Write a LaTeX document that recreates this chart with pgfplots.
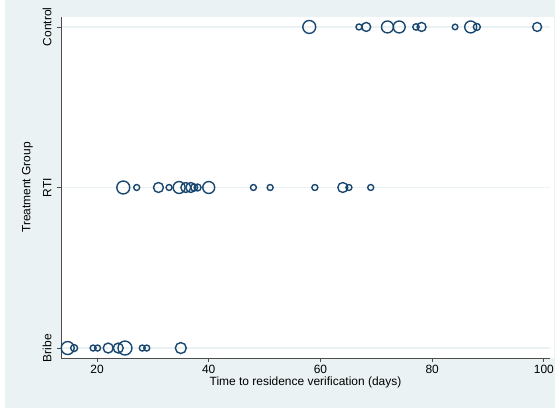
\documentclass[border=0pt]{standalone}
\usepackage{fontspec}
\setmainfont{Liberation Sans}
\usepackage{pgfplots}
\pgfplotsset{compat=1.18}
\definecolor{bgc}{HTML}{EAF2F3}
\definecolor{navy}{HTML}{1A476F}
\begin{document}
\begin{tikzpicture}
\fill[white] (0,0) rectangle (559bp,408bp);
\fill[bgc] (5bp,0) rectangle (555bp,408bp);
\fill[white] (61bp,50bp) rectangle (554bp,391bp);
\useasboundingbox (0,0) rectangle (559bp,408bp);
\begin{axis}[
  at={(61bp,50bp)}, anchor=south west,
  scale only axis, width=489bp, height=341bp,
  xmin=13.55, xmax=101.1, ymin=-0.062, ymax=2.062,
  axis x line*=bottom, axis y line*=left,
  axis line style={-, draw=black!70, line width=0.9bp},
  xtick={20,40,60,80,100},
  ytick={0,1,2}, yticklabels={Bribe,RTI,Control},
  yticklabel style={rotate=90, anchor=south, yshift=2bp},
  tick align=outside, major tick length=4bp,
  tick style={draw=black!70, line width=0.8bp},
  ymajorgrids, grid style={bgc, line width=1.6bp},
  /pgf/number format/assume math mode=true,
  ticklabel style={font=\fontsize{12}{14}\selectfont},
  label style={font=\fontsize{12}{14}\selectfont},
  xlabel={Time to residence verification (days)},
  xlabel style={yshift=3.5bp},
  ylabel={Treatment Group},
  ylabel style={yshift=3bp},
  clip=false,
]
\addplot[scatter, only marks, mark=o,
  scatter/use mapped color={draw=navy, fill=none},
  mark options={line width=1.4bp},
  visualization depends on={\thisrow{r} \as \perpointmarksize},
  scatter/@pre marker code/.append style={/tikz/mark size=\perpointmarksize}]
table {
x y r
58.0 2 6.5
66.9 2 3.0
68.2 2 4.5
72.0 2 6.0
74.1 2 6.0
77.1 2 3.2
78.1 2 4.5
84.1 2 2.8
86.9 2 6.0
88.0 2 3.5
98.8 2 4.5
24.7 1 6.5
27.1 1 3.0
31.0 1 5.0
32.9 1 3.0
34.7 1 6.0
35.9 1 5.0
36.8 1 5.0
37.4 1 3.5
38.0 1 3.5
40.0 1 6.0
48.0 1 3.0
51.0 1 3.0
59.0 1 3.0
64.0 1 5.0
65.1 1 3.0
69.0 1 3.0
14.75 0 6.5
15.9 0 3.5
19.3 0 3.0
20.1 0 3.0
22.0 0 5.0
23.8 0 5.0
25.0 0 7.0
28.1 0 3.0
28.9 0 3.0
35.0 0 5.5
};
\end{axis}
\end{tikzpicture}
\end{document}
